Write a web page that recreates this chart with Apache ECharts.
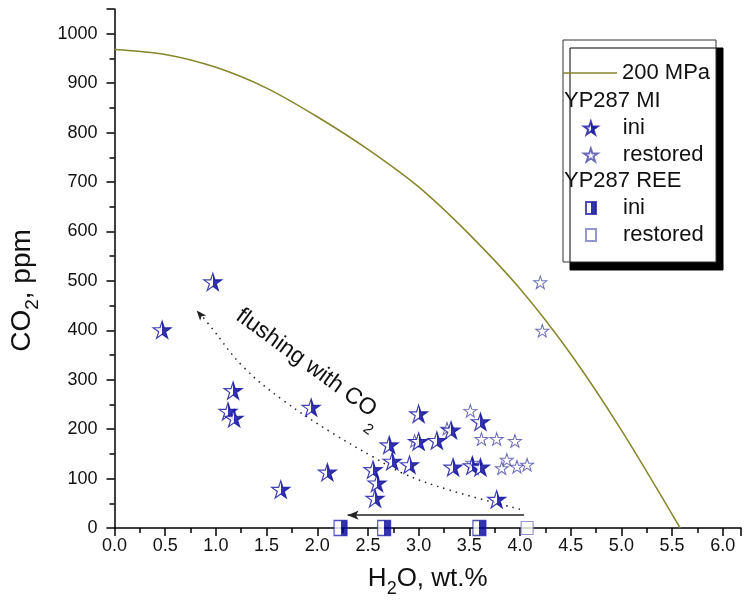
<!DOCTYPE html>
<html>
<head>
<meta charset="utf-8">
<script src="https://cdn.jsdelivr.net/npm/echarts@6/dist/echarts.min.js"></script>
<style>html,body{margin:0;padding:0;background:#fff;}#chart{width:744px;height:615px;}</style>
</head>
<body>
<div id="chart"></div>
<script>
// 200 MPa isobar (H2O wt.% , CO2 ppm)
const isobarH2O = [0, 0.5, 1.0, 1.5, 2.0, 2.5, 3.0, 3.5, 4.0, 4.5, 5.0, 5.58];
const isobarCO2 = [968, 958, 932, 890, 832, 766, 690, 594, 484, 352, 198, 0];

// YP287 MI, initial (half-filled stars)
const miIniH2O = [0.47, 0.97, 1.17, 1.12, 1.18, 1.64, 1.94, 2.10, 2.55, 2.59, 2.57, 2.71, 2.74, 2.91, 3.00, 3.00, 3.18, 3.32, 3.34, 3.53, 3.61, 3.61, 3.77];
const miIniCO2 = [401, 498, 278, 236, 222, 78, 244, 113, 118, 91, 60, 168, 135, 128, 231, 175, 177, 198, 123, 126, 123, 215, 58];

// YP287 MI, restored (open stars)
const miResH2O = [2.96, 3.28, 3.51, 3.53, 3.62, 3.77, 3.95, 3.87, 3.82, 3.97, 4.07, 4.20, 4.22];
const miResCO2 = [176, 201, 237, 132, 180, 180, 176, 138, 121, 124, 128, 497, 399];

// YP287 REE
const reeIniH2O = [2.23, 2.66, 3.60];
const reeIniCO2 = [0, 0, 0];
const reeResH2O = [4.07];
const reeResCO2 = [0];

// "flushing with CO2" dotted path
const flushH2O = [4.00, 3.30, 2.84, 2.55, 2.15, 1.66, 1.27, 0.95, 0.82];
const flushCO2 = [38, 77, 111, 144, 192, 259, 326, 407, 440];

// axis ticks
const xTicks = ['0.0','0.5','1.0','1.5','2.0','2.5','3.0','3.5','4.0','4.5','5.0','5.5','6.0'];
const yTicks = ['0','100','200','300','400','500','600','700','800','900','1000'];

const zip = (a, b) => a.map((v, i) => [v, b[i]]);
const FONT = '"Liberation Sans", Arial, sans-serif';
const STAR = 'path://M50,0 L61.23,34.55 L97.55,34.55 L68.16,55.9 L79.39,90.45 L50,69.1 L20.61,90.45 L31.84,55.9 L2.45,34.55 L38.77,34.55 Z';
const BLUE = '#00009c';
const OLIVE = '#85852a';
const half = () => new echarts.graphic.LinearGradient(0, 0, 1, 0, [
  {offset: 0, color: '#ffffff'}, {offset: 0.5, color: '#ffffff'},
  {offset: 0.5, color: BLUE}, {offset: 1, color: BLUE}
]);

const chart = echarts.init(document.getElementById('chart'), null, {renderer: 'canvas'});

const legendCommon = {
  orient: 'vertical', padding: 0, itemGap: 5,
  selectedMode: false, z: 10,
  textStyle: {fontSize: 22, lineHeight: 22, color: '#111', fontFamily: FONT},
  formatter: n => n.replace(/^(MI|REE) /, '')
};

const option = {
  animation: false,
  backgroundColor: '#fff',
  textStyle: {fontFamily: FONT},
  grid: {left: 110, right: 3, top: 9, bottom: 87, containLabel: false},
  xAxis: {
    type: 'value', min: 0, max: 6.18, interval: 0.5,
    name: 'H{sub|2}O, wt.%', nameLocation: 'middle', nameGap: 32,
    nameTextStyle: {fontSize: 26, color: '#111', fontFamily: FONT,
      rich: {sub: {fontSize: 18, padding: [20, 0, 0, 0], color: '#111', fontFamily: FONT}}},
    axisLine: {lineStyle: {color: '#000', width: 1.5}},
    axisTick: {inside: false, length: 8, lineStyle: {color: '#000', width: 1.5}},
    minorTick: {show: true, splitNumber: 2, length: 5, lineStyle: {color: '#000', width: 1.5}},
    splitLine: {show: false},
    axisLabel: {fontSize: 18, color: '#111', margin: 9, showMaxLabel: false,
      formatter: v => { const i = Math.round(v / 0.5); return Math.abs(v - i * 0.5) < 1e-6 ? (xTicks[i] || '') : ''; }}
  },
  yAxis: {
    type: 'value', min: 0, max: 1050, interval: 100,
    name: 'CO{sub|2}, ppm', nameLocation: 'middle', nameGap: 72, nameRotate: 90,
    nameTextStyle: {fontSize: 28, color: '#111', fontFamily: FONT, padding: [0, 44, 0, 0],
      rich: {sub: {fontSize: 19, padding: [22, 0, 0, 0], color: '#111', fontFamily: FONT}}},
    axisLine: {lineStyle: {color: '#000', width: 1.5}},
    axisTick: {inside: false, length: 8, lineStyle: {color: '#000', width: 1.5}},
    minorTick: {show: true, splitNumber: 2, length: 5, lineStyle: {color: '#000', width: 1.5}},
    splitLine: {show: false},
    axisLabel: {fontSize: 18, color: '#111', margin: 17, showMaxLabel: false,
      formatter: v => { const i = Math.round(v / 100); return Math.abs(v - i * 100) < 1e-6 ? (yTicks[i] || '') : ''; }}
  },
  legend: [
    Object.assign({}, legendCommon, {
      left: 563, top: 62, itemWidth: 54, itemHeight: 14,
      data: [{name: '200 MPa', icon: 'path://M0,0 H54 V1.6 H0 Z', itemStyle: {color: OLIVE}}]
    }),
    Object.assign({}, legendCommon, {
      left: 583, top: 117, itemWidth: 14, itemHeight: 13,
      textStyle: Object.assign({}, legendCommon.textStyle, {padding: [0, 0, 0, 20]}),
      data: ['MI ini', 'MI restored']
    }),
    Object.assign({}, legendCommon, {
      left: 585, top: 197, itemWidth: 10, itemHeight: 12,
      textStyle: Object.assign({}, legendCommon.textStyle, {padding: [0, 0, 0, 22]}),
      data: ['REE ini', 'REE restored']
    })
  ],
  graphic: [
    {type: 'rect', z: 3, shape: {x: 563, y: 40, width: 153, height: 222},
      style: {fill: '#fff', stroke: '#333', lineWidth: 1, shadowBlur: 0, shadowOffsetX: 7, shadowOffsetY: 8, shadowColor: '#000'}},
    {type: 'text', z: 11, style: {x: 564, y: 101, text: 'YP287 MI', fontSize: 22, fontFamily: FONT, fill: '#111', verticalAlign: 'middle'}},
    {type: 'text', z: 11, style: {x: 564, y: 181, text: 'YP287 REE', fontSize: 22, fontFamily: FONT, fill: '#111', verticalAlign: 'middle'}}
  ],
  series: [
    {
      name: '200 MPa', type: 'line', data: zip(isobarH2O, isobarCO2), smooth: 0.3,
      symbol: 'none', lineStyle: {color: OLIVE, width: 1.5}, itemStyle: {color: OLIVE}, z: 2
    },
    {
      type: 'line', data: zip(flushH2O, flushCO2), smooth: 0.4, symbol: 'none', silent: true,
      lineStyle: {color: '#222', width: 1.5, type: [1.5, 5]}, z: 2,
      markLine: {
        silent: true, symbol: ['none', 'arrow'], symbolSize: [7, 11],
        label: {show: false},
        lineStyle: {color: '#222', width: 1.5, type: 'solid'},
        data: [[{coord: [4.04, 26]}, {coord: [2.30, 26]}]]
      },
      markPoint: {
        silent: true,
        data: [
          {coord: [0.81, 440], symbol: 'arrow', symbolSize: [6, 10], symbolRotate: 41,
            itemStyle: {color: '#222'}, label: {show: false}},
          {coord: [1.89, 334], symbol: 'circle', symbolSize: 0,
            label: {show: true, position: 'inside', formatter: 'flushing with CO', rotate: -36,
              fontSize: 23, color: '#111', fontFamily: FONT}},
          {coord: [2.50, 199], symbol: 'circle', symbolSize: 0,
            label: {show: true, position: 'inside', formatter: '2', rotate: -36,
              fontSize: 15, color: '#111', fontFamily: FONT}}
        ]
      }
    },
    {
      name: 'MI restored', type: 'scatter', data: zip(miResH2O, miResCO2), clip: false,
      symbol: STAR, symbolSize: [13, 12.5],
      itemStyle: {color: '#ffffff', borderColor: '#4848a8', borderWidth: 1}, z: 3
    },
    {
      name: 'MI ini', type: 'scatter', data: zip(miIniH2O, miIniCO2), clip: false,
      symbol: STAR, symbolSize: [18, 17],
      itemStyle: {color: half(), borderColor: '#10109c', borderWidth: 1.2}, z: 4
    },
    {
      name: 'REE restored', type: 'scatter', data: zip(reeResH2O, reeResCO2), clip: false,
      symbol: 'rect', symbolSize: [12, 13],
      itemStyle: {color: '#ffffff', borderColor: '#7a7ac0', borderWidth: 1.2}, z: 5
    },
    {
      name: 'REE ini', type: 'scatter', data: zip(reeIniH2O, reeIniCO2), clip: false,
      symbol: 'rect', symbolSize: [13, 15],
      itemStyle: {color: half(), borderColor: '#2020b0', borderWidth: 1.2}, z: 5
    }
  ]
};
chart.setOption(option);
</script>
</body>
</html>
